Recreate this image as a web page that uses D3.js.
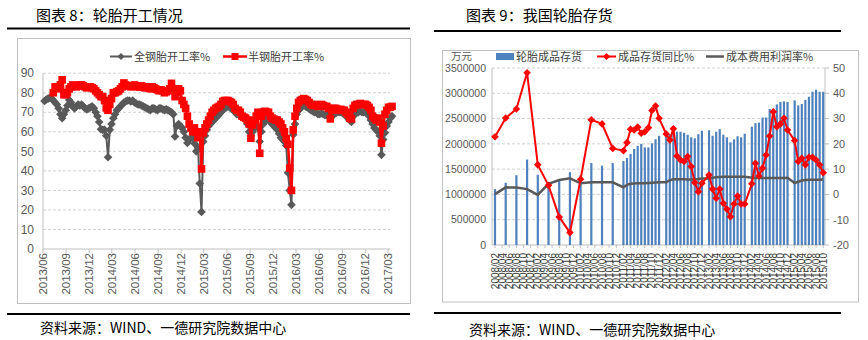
<!DOCTYPE html>
<html>
<head>
<meta charset="utf-8">
<script src="https://cdn.jsdelivr.net/npm/d3@7"></script>
<style>
  body { margin: 0; background: #fff; }
  svg { display: block; }
</style>
</head>
<body>
<svg id="chart" width="868" height="340"></svg>
<script>
// ---------- 图表 8：轮胎开工情况 (weekly operating rates, %) ----------
const rateFirstWeek = "2013-06-07";
const rateTickLabels = ["2013/06","2013/09","2013/12","2014/03","2014/06","2014/09","2014/12",
  "2015/03","2015/06","2015/09","2015/12","2016/03","2016/06","2016/09","2016/12","2017/03"];
const rateSeriesNames = ["全钢胎开工率%", "半钢胎开工率%"];
const allSteelRate = [
  75.8, 76.5, 77, 77.5, 77.2, 76, 75, 74, 72, 69,
  67, 69, 71, 73.5, 76.3, 75, 73, 72, 73, 74,
  73.5, 74, 73, 72, 71.5, 72, 72.5, 73, 72, 70,
  68, 65, 61.3, 61, 61, 58, 47, 61, 64, 67,
  69, 71, 72, 73, 74, 75, 75.5, 76, 76, 75.5,
  76, 75, 74.5, 74, 74, 73.5, 73, 72.5, 72, 71.5,
  71, 72, 72, 71.5, 71, 72, 72, 71.5, 71, 71.5,
  71, 70.5, 70, 69, 57.6, 63, 64, 63, 62, 60,
  57, 54.3, 56, 57, 57, 54, 50, 52, 33.5, 19,
  55, 58, 61, 63, 64, 65, 66, 67, 68, 69,
  70, 71, 72, 72.5, 73, 72.5, 72, 71, 70, 69,
  69, 68, 68, 67, 66, 64, 60, 58, 60, 62,
  63, 62, 55, 60, 64, 66, 67, 66, 65, 64,
  63, 62, 61, 59, 57, 56, 55, 53, 39, 30,
  22.6, 58.5, 64, 69, 71, 72, 73, 73.5, 73, 72.5,
  72, 71, 70.5, 70, 70, 69, 69, 69.5, 69, 68.5,
  69, 68, 67, 68, 69, 69.5, 70, 70, 70, 69.5,
  69, 68, 67, 66, 65, 68, 69, 70, 70, 70.5,
  70, 70, 70, 69.5, 68, 66, 64, 62, 61, 60,
  58, 48.2, 56, 59.5, 63, 65, 67, 68
];
const semiSteelRate = [
  null, null, null, null, null, 80, 83, 83, 82, 84,
  86.6, 79, 79, 80, 82, 83, 84, 83.5, 83, 83.5,
  84, 84, 83.5, 83, 82.5, 83, 83, 82.5, 82, 81,
  80, 79, 78, 78, 76, 72.2, 71, 74, 77, 80,
  80, 80.5, 81, 82, 83, 85, 84, 83.5, 83.5, 83,
  83.5, 84, 83.5, 83, 83, 83.5, 83, 82.5, 83, 82.5,
  82, 83, 82.5, 82, 81.5, 81, 81.5, 81, 80, 80.5,
  81, 82, 84.8, 82, 78, 80, 82, 81, 76, 74,
  72, 68, 64, 62, 60, 62, 60, 57, 60, 41,
  59.5, 62, 64, 66, 68, 70, 71, 72, 72.5, 73,
  74, 75.5, 76, 76, 76, 75.5, 75, 74, 72, 71,
  71, 70, 68, 67.5, 67, 66, 64, 56.7, 63.5, 66,
  68, 70, 49, 68, 70, 70.5, 70, 70, 68, 67,
  66.5, 66, 66, 65, 64, 62, 60, 56.5, 53.6, 41.4,
  30, 61, 68, 72, 75, 76, 76.5, 77, 76.5, 76,
  75, 74, 73.5, 74, 73.5, 73, 73.5, 74, 73.5, 73,
  73, 72, 66.6, 71, 72, 72, 71.5, 71, 71.5, 71,
  71, 70, 69, 67, 66.6, 72, 73.5, 74, 74, 74.5,
  74, 74, 74, 73.5, 72.5, 71, 68, 67, 66, 67,
  65, 54.2, 63, 69, 71, 72.5, 72.6, 73
];

// ---------- 图表 9：我国轮胎存货 ----------
const invMonths = [
  "2008/02","2008/05","2008/08","2008/11","2009/02","2009/05","2009/08","2009/11",
  "2010/02","2010/05","2010/08","2010/11",
  "2011/02","2011/03","2011/04","2011/05","2011/06","2011/07","2011/08","2011/09","2011/10","2011/11","2011/12",
  "2012/02","2012/03","2012/04","2012/05","2012/06","2012/07","2012/08","2012/09","2012/10","2012/11","2012/12",
  "2013/02","2013/03","2013/04","2013/05","2013/06","2013/07","2013/08","2013/09","2013/10","2013/11","2013/12",
  "2014/02","2014/03","2014/04","2014/05","2014/06","2014/07","2014/08","2014/09","2014/10","2014/11","2014/12",
  "2015/02","2015/03","2015/04","2015/05","2015/06","2015/07","2015/08","2015/09","2015/10"
];
// 轮胎成品存货（万元）
const tireStock = [
  1105000, 1230000, 1380000, 1690000, 1390000, 1240000, 1300000, 1440000,
  1380000, 1620000, 1570000, 1620000,
  1660000, 1720000, 1800000, 1900000, 1960000, 2000000, 1930000, 1930000, 2010000, 2090000, 2160000,
  2220000, 2190000, 2220000, 2240000, 2240000, 2220000, 2180000, 2130000, 2110000, 2190000, 2260000,
  2270000, 2160000, 2240000, 2290000, 2180000, 2130000, 2030000, 2090000, 2150000, 2130000, 2200000,
  2340000, 2410000, 2420000, 2520000, 2520000, 2690000, 2690000, 2780000, 2830000, 2840000, 2830000,
  2860000, 2760000, 2790000, 2870000, 2930000, 3030000, 3070000, 3030000, 3030000
];
// 成品存货同比%
const stockYoY = [
  22.8, 30.2, 33.8, 48.1, 11.7, 3.6, -8.9, -15.1,
  6.0, 29.5, 27.9, 18.2,
  17.3, 20.5, 25.8, 25.5, 26.6, 24.2, 24.8, 26.4, 33.2, 35.0, 30.1,
  23.9, 21.5, 26.0, 15.2, 13.6, 13.0, 15.0, 11.0, 4.7, 1.1, 4.4,
  7.7, 2.1, -1.5, 2.1, -3.5, -5.8, -8.8, -3.8, -0.6, -3.8, -3.8,
  4.2, 12.3, 7.3, 10.4, 15.6, 23.1, 32.7, 26.8, 27.9, 30.1, 25.5,
  21.3, 13.0, 14.3, 11.7, 14.7, 14.7, 13.6, 11.7, 8.6
];
// 成本费用利润率%
const profitRate = [
  0.1, 2.8, 2.7, 2.1, -0.2, 4.2, 5.7, 6.4,
  4.4, 4.8, 4.8, 4.8,
  2.8, 3.8, 4.2, 4.3, 4.4, 4.4, 4.4, 4.5, 4.6, 4.7, 4.8,
  4.8, 5.6, 6.0, 6.0, 6.0, 6.0, 5.9, 5.9, 6.0, 6.1, 6.3,
  6.3, 6.6, 6.8, 6.9, 7.0, 7.0, 7.0, 7.0, 7.0, 7.0, 7.0,
  6.6, 6.5, 6.5, 6.5, 6.5, 6.5, 6.5, 6.5, 6.5, 6.5, 6.6,
  4.5, 5.0, 5.5, 5.7, 5.8, 5.8, 5.8, 5.8, 5.9
];
const invSeriesNames = ["轮胎成品存货", "成品存货同比%", "成本费用利润率%"];
const invTickLabels = [
  "2008/02","2008/04","2008/06","2008/08","2008/10","2008/12",
  "2009/02","2009/04","2009/06","2009/08","2009/10","2009/12",
  "2010/02","2010/04","2010/06","2010/08","2010/10","2010/12",
  "2011/02","2011/04","2011/06","2011/08","2011/10","2011/12",
  "2012/02","2012/04","2012/06","2012/08","2012/10","2012/12",
  "2013/02","2013/04","2013/06","2013/08","2013/10","2013/12",
  "2014/02","2014/04","2014/06","2014/08","2014/10","2014/12",
  "2015/02","2015/04","2015/06","2015/08","2015/10"
];
const stockTicks = [0, 500000, 1000000, 1500000, 2000000, 2500000, 3000000, 3500000];
const pctTicks = [-20, -10, 0, 10, 20, 30, 40, 50];

// ---------- shared styles ----------
const CJK = "'Noto Sans CJK SC', 'Noto Sans', sans-serif";
const NUM = "'Liberation Sans', Arial, sans-serif";
const AXIS_TXT = "#595959";
const GRID = "#d0d0d0";
const FRAME = "#bfbfbf";
const RED = "#ff0000";
const DARK = "#595959";
const BLUE = "#4f81bd";

const svg = d3.select("#chart");
svg.append("rect").attr("width", 868).attr("height", 340).attr("fill", "#fff");

const diamond = r => `M0,${-r}L${r},0L0,${r}L${-r},0Z`;

// Page furniture: title, rules, frame, source line
function panelFrame(g, o) {
  g.append("text").attr("x", o.titleX).attr("y", 21)
    .attr("font-family", CJK).attr("font-size", 15).attr("fill", "#000")
    .text(o.title);
  g.append("line").attr("x1", o.ruleX0).attr("x2", o.ruleX1)
    .attr("y1", o.topRuleY).attr("y2", o.topRuleY)
    .attr("stroke", "#000").attr("stroke-width", 2);
  g.append("rect").attr("x", o.box[0]).attr("y", o.box[1])
    .attr("width", o.box[2]).attr("height", o.box[3])
    .attr("fill", "#fff").attr("stroke", FRAME).attr("stroke-width", 1);
  g.append("line").attr("x1", o.ruleX0).attr("x2", o.ruleX1)
    .attr("y1", o.botRuleY).attr("y2", o.botRuleY)
    .attr("stroke", "#000").attr("stroke-width", 2);
  g.append("text").attr("x", o.srcX).attr("y", o.srcY)
    .attr("font-family", CJK).attr("font-size", 14).attr("fill", "#000")
    .text("资料来源：WIND、一德研究院数据中心");
}

// ================= Left panel =================
{
  const g = svg.append("g");
  panelFrame(g, {
    title: "图表 8：轮胎开工情况", titleX: 36,
    ruleX0: 7, ruleX1: 410, topRuleY: 28.5, botRuleY: 314,
    box: [17.5, 38.5, 393, 265], srcX: 40, srcY: 333
  });

  const parseM = d3.timeParse("%Y/%m");
  const x = d3.scaleTime()
    .domain([parseM(rateTickLabels[0]), parseM(rateTickLabels[rateTickLabels.length - 1])])
    .range([43, 388]);
  const y = d3.scaleLinear().domain([0, 90]).range([249, 73.2]);
  const plotRight = 390;

  const start = d3.timeParse("%Y-%m-%d")(rateFirstWeek);
  const weeks = allSteelRate.map((_, i) => d3.timeDay.offset(start, 7 * i));

  // grid
  const yTicks = d3.range(0, 91, 10);
  g.append("g").selectAll("line").data(yTicks.filter(v => v > 0)).join("line")
    .attr("x1", 43).attr("x2", plotRight)
    .attr("y1", d => y(d)).attr("y2", d => y(d))
    .attr("stroke", GRID).attr("stroke-dasharray", "3,2");

  // axes
  g.append("line").attr("x1", 43).attr("x2", 43).attr("y1", y(90)).attr("y2", y(0))
    .attr("stroke", FRAME);
  g.append("line").attr("x1", 43).attr("x2", plotRight).attr("y1", y(0)).attr("y2", y(0))
    .attr("stroke", FRAME);
  g.append("g").selectAll("text").data(yTicks).join("text")
    .attr("x", 34).attr("y", d => y(d)).attr("dy", "0.35em")
    .attr("text-anchor", "end").attr("font-family", NUM).attr("font-size", 12)
    .attr("fill", AXIS_TXT).text(d => d);

  const xt = g.append("g").selectAll("g").data(rateTickLabels).join("g")
    .attr("transform", d => `translate(${x(parseM(d))},${y(0)})`);
  xt.append("line").attr("y1", 0).attr("y2", 4).attr("stroke", FRAME);
  xt.append("text").attr("transform", "translate(0,4) rotate(-90)")
    .attr("text-anchor", "end").attr("dy", "0.35em")
    .attr("font-family", NUM).attr("font-size", 11.5).attr("fill", AXIS_TXT)
    .text(d => d);

  // series
  const mk = vals => vals.map((v, i) => ({ d: weeks[i], v }));
  const lineGen = d3.line().defined(p => p.v != null).x(p => x(p.d)).y(p => y(p.v));
  const gray = mk(allSteelRate);
  const red = mk(semiSteelRate);

  g.append("path").datum(gray).attr("d", lineGen)
    .attr("fill", "none").attr("stroke", DARK).attr("stroke-width", 2);
  g.append("g").selectAll("path").data(gray).join("path")
    .attr("transform", p => `translate(${x(p.d)},${y(p.v)})`)
    .attr("d", diamond(4.3)).attr("fill", DARK);

  g.append("path").datum(red).attr("d", lineGen)
    .attr("fill", "none").attr("stroke", RED).attr("stroke-width", 2.5);
  g.append("g").selectAll("rect").data(red.filter(p => p.v != null)).join("rect")
    .attr("x", p => x(p.d) - 3.8).attr("y", p => y(p.v) - 3.8)
    .attr("width", 7.6).attr("height", 7.6).attr("fill", RED);

  // legend
  const lg = g.append("g");
  lg.append("line").attr("x1", 110).attr("x2", 132).attr("y1", 56.5).attr("y2", 56.5)
    .attr("stroke", DARK).attr("stroke-width", 2);
  lg.append("path").attr("transform", "translate(121,56.5)").attr("d", diamond(3.6)).attr("fill", DARK);
  lg.append("text").attr("x", 134).attr("y", 60.5).attr("font-family", CJK)
    .attr("font-size", 11).attr("fill", "#404040").text(rateSeriesNames[0]);
  lg.append("line").attr("x1", 223).attr("x2", 247).attr("y1", 56.5).attr("y2", 56.5)
    .attr("stroke", RED).attr("stroke-width", 2.5);
  lg.append("rect").attr("x", 231.5).attr("y", 53).attr("width", 7).attr("height", 7).attr("fill", RED);
  lg.append("text").attr("x", 248).attr("y", 60.5).attr("font-family", CJK)
    .attr("font-size", 11).attr("fill", "#404040").text(rateSeriesNames[1]);
}

// ================= Right panel =================
{
  const g = svg.append("g");
  panelFrame(g, {
    title: "图表 9：我国轮胎存货", titleX: 466,
    ruleX0: 434, ruleX1: 841, topRuleY: 31, botRuleY: 313,
    box: [442.5, 50.5, 416, 251.5], srcX: 469, srcY: 335
  });

  const monthIdx = s => { const [yy, mm] = s.split("/").map(Number); return (yy - 2008) * 12 + (mm - 2); };
  const x = d3.scaleLinear()
    .domain([monthIdx(invTickLabels[0]), monthIdx(invTickLabels[invTickLabels.length - 1])])
    .range([495, 823.2]);
  const yL = d3.scaleLinear().domain([0, 3500000]).range([245, 68]);
  const yR = d3.scaleLinear().domain([-20, 50]).range([245, 68]);
  const left = 492, right = 825;

  // grid
  g.append("g").selectAll("line").data(stockTicks.filter(v => v > 0)).join("line")
    .attr("x1", left).attr("x2", right)
    .attr("y1", d => yL(d)).attr("y2", d => yL(d))
    .attr("stroke", GRID).attr("stroke-dasharray", "3,2");

  // axes lines
  g.append("line").attr("x1", left).attr("x2", left).attr("y1", 68).attr("y2", 245).attr("stroke", FRAME);
  g.append("line").attr("x1", right).attr("x2", right).attr("y1", 68).attr("y2", 245).attr("stroke", FRAME);
  g.append("line").attr("x1", left).attr("x2", right).attr("y1", 245).attr("y2", 245).attr("stroke", FRAME);

  g.append("g").selectAll("text").data(stockTicks).join("text")
    .attr("x", 486).attr("y", d => yL(d)).attr("dy", "0.35em").attr("text-anchor", "end")
    .attr("font-family", NUM).attr("font-size", 10.5).attr("fill", AXIS_TXT).text(d => d);

  g.append("g").selectAll("line").data(pctTicks).join("line")
    .attr("x1", right).attr("x2", right + 4).attr("y1", d => yR(d)).attr("y2", d => yR(d))
    .attr("stroke", FRAME);
  g.append("g").selectAll("text").data(pctTicks).join("text")
    .attr("x", 833).attr("y", d => yR(d)).attr("dy", "0.35em")
    .attr("font-family", NUM).attr("font-size", 11).attr("fill", AXIS_TXT).text(d => d);

  // x tick labels
  const xt = g.append("g").selectAll("g").data(invTickLabels).join("g")
    .attr("transform", d => `translate(${x(monthIdx(d))},245)`);
  xt.append("line").attr("y1", 0).attr("y2", 3).attr("stroke", FRAME);
  xt.append("text").attr("transform", "translate(0,8) rotate(-90)")
    .attr("text-anchor", "end").attr("dy", "0.35em")
    .attr("font-family", NUM).attr("font-size", 10).attr("fill", "#404040")
    .text(d => d);

  // bars
  const rows = invMonths.map((m, i) => ({ i: monthIdx(m), stock: tireStock[i], yoy: stockYoY[i], profit: profitRate[i] }));
  g.append("g").selectAll("rect").data(rows).join("rect")
    .attr("x", r => x(r.i) - 1.1).attr("width", 2.2)
    .attr("y", r => yL(r.stock)).attr("height", r => yL(0) - yL(r.stock))
    .attr("fill", BLUE);

  // profit rate line
  g.append("path").datum(rows)
    .attr("d", d3.line().x(r => x(r.i)).y(r => yR(r.profit)))
    .attr("fill", "none").attr("stroke", DARK).attr("stroke-width", 2.5);

  // yoy line with diamonds
  g.append("path").datum(rows)
    .attr("d", d3.line().x(r => x(r.i)).y(r => yR(r.yoy)))
    .attr("fill", "none").attr("stroke", RED).attr("stroke-width", 2);
  g.append("g").selectAll("path").data(rows).join("path")
    .attr("transform", r => `translate(${x(r.i)},${yR(r.yoy)})`)
    .attr("d", diamond(3.8)).attr("fill", RED);

  // legend
  const lg = g.append("g");
  lg.append("text").attr("x", 451).attr("y", 60).attr("font-family", CJK)
    .attr("font-size", 10.5).attr("fill", AXIS_TXT).text("万元");
  lg.append("rect").attr("x", 496).attr("y", 53).attr("width", 18).attr("height", 7).attr("fill", BLUE);
  lg.append("text").attr("x", 516).attr("y", 60.5).attr("font-family", CJK)
    .attr("font-size", 11).attr("fill", "#404040").text(invSeriesNames[0]);
  lg.append("line").attr("x1", 597).attr("x2", 616).attr("y1", 56.5).attr("y2", 56.5)
    .attr("stroke", RED).attr("stroke-width", 2);
  lg.append("path").attr("transform", "translate(606.5,56.5)").attr("d", diamond(3.6)).attr("fill", RED);
  lg.append("text").attr("x", 618).attr("y", 60.5).attr("font-family", CJK)
    .attr("font-size", 11).attr("fill", "#404040").text(invSeriesNames[1]);
  lg.append("line").attr("x1", 706).attr("x2", 724).attr("y1", 56.5).attr("y2", 56.5)
    .attr("stroke", DARK).attr("stroke-width", 2.5);
  lg.append("text").attr("x", 726).attr("y", 60.5).attr("font-family", CJK)
    .attr("font-size", 11).attr("fill", "#404040").text(invSeriesNames[2]);
}
</script>
</body>
</html>
